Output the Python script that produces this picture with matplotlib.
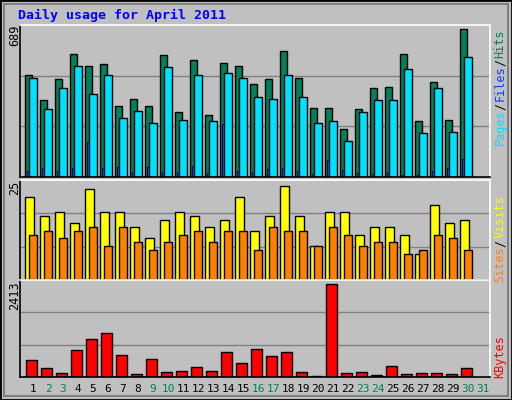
import matplotlib
matplotlib.use("Agg")
import matplotlib.pyplot as plt
import numpy as np
from matplotlib.patches import Rectangle

days = list(range(1, 32))
hits = [478,361,455,572,520,525,333,366,329,567,301,544,287,530,516,436,455,586,464,324,324,226,315,413,418,572,259,441,268,689]
files = [464,319,413,520,385,474,273,310,254,511,268,474,259,483,464,371,366,478,371,254,263,170,301,357,361,502,207,413,212,558]
pages = [30,44,30,44,165,44,48,25,48,25,25,53,20,245,30,25,39,44,30,16,81,34,20,16,25,11,11,30,44,86]
visits = [22,17,18,15,24,18,18,14,11,16,18,17,14,16,22,13,17,25,17,9,18,18,12,14,14,12,7,20,15,16]
sites = [12,13,11,13,14,9,14,10,8,10,12,13,10,13,13,8,14,13,13,9,14,12,9,10,10,7,8,12,11,8]
kbytes = [432,220,115,696,986,1145,564,88,458,141,167,247,167,643,352,722,537,643,141,35,2413,115,141,62,273,88,115,115,88,220]
weekend = [2,3,9,10,16,17,23,24,30,31]

W, H = 512, 400
fig = plt.figure(figsize=(W/100, H/100), dpi=100)
fig.patch.set_facecolor("#C0C0C0")
fig.add_artist(Rectangle((0, 0), 1, 1, transform=fig.transFigure, fill=False, edgecolor="black", lw=2))
fig.add_artist(Rectangle((4/W, 4/H), 1-8/W, 1-8/H, transform=fig.transFigure, fill=False, edgecolor="#808080", lw=1.5))
mono = "DejaVu Sans Mono"

def ax_at(x0, y0, x1, y1):
    ax = fig.add_axes([x0/W, 1-y1/H, (x1-x0)/W, (y1-y0)/H])
    ax.set_facecolor("#C0C0C0")
    ax.set_xlim(0.27, 31.6)
    ax.set_xticks([]); ax.set_yticks([])
    for s in ["top", "right"]:
        ax.spines[s].set_color("white")
    for s in ["left", "bottom"]:
        ax.spines[s].set_color("black")
    for sp in ax.spines.values():
        sp.set_linewidth(1.2)
    return ax

d = np.array(days[:30], dtype=float)
kw = dict(edgecolor="black", linewidth=1, align="edge")

ax1 = ax_at(20, 25, 490, 177)
top1 = 709
ax1.set_ylim(0, top1)
for g in (top1/3, 2*top1/3):
    ax1.axhline(g, color="#808080", lw=1, zorder=0)
ax1.bar(d-0.4, hits, width=0.47, color="#00805C", **kw)
ax1.bar(d-0.1, files, width=0.5, color="#00E0FF", **kw)
ax1.bar(d-0.27, pages, width=0.14, color="#0040FF", edgecolor="black", linewidth=0.6, align="edge")

ax2 = ax_at(20, 180, 490, 280)
top2 = 26.5
ax2.set_ylim(0, top2)
for g in (top2/3, 2*top2/3):
    ax2.axhline(g, color="#808080", lw=1, zorder=0)
ax2.bar(d-0.4, visits, width=0.58, color="#FFFF00", **kw)
ax2.bar(d-0.13, sites, width=0.53, color="#FF8000", **kw)

ax3 = ax_at(20, 280, 490, 377)
top3 = 2510
ax3.set_ylim(0, top3)
for g in (top3/3, 2*top3/3):
    ax3.axhline(g, color="#808080", lw=1, zorder=0)
ax3.bar(d-0.33, kbytes, width=0.7, color="#FF0000", **kw)

fig.text(18/W, 1-15/H, "Daily usage for April 2011", color="#0000FF", fontsize=9.5,
         fontweight="bold", family=mono, va="center", ha="left")
for y, s in [(25, "689"), (181, "25"), (282, "2413")]:
    fig.text(15/W, 1-y/H, s, rotation=90, fontsize=8.5, family=mono, va="top", ha="center")

def rlabel(yc, parts):
    # parts listed bottom->top
    n = sum(len(t) for t, _ in parts) + (len(parts) - 1) * 0.6
    ch = 6.6
    y = yc + n*ch/2
    for t, c in parts:
        fig.text(500/W, 1-y/H, t, rotation=90, fontsize=8.5, family=mono, color=c, va="bottom", ha="center")
        y -= (len(t) + 0.3)*ch

rlabel(84, [("Pages", "#00E0FF"), ("/", "#000000"), ("Files", "#0040FF"), ("/", "#000000"), ("Hits", "#00805C")])
rlabel(238, [("Sites", "#FF8000"), ("/", "#000000"), ("Visits", "#FFFF00")])
rlabel(358, [("KBytes", "#FF0000")])

for day in days:
    xp = 33 + 15*(day-1)
    fig.text(xp/W, 1-389/H, str(day), fontsize=8, family=mono, ha="center", va="center",
             color="#00805C" if day in weekend else "black")

fig.savefig("out.png", dpi=100, facecolor=fig.get_facecolor())
